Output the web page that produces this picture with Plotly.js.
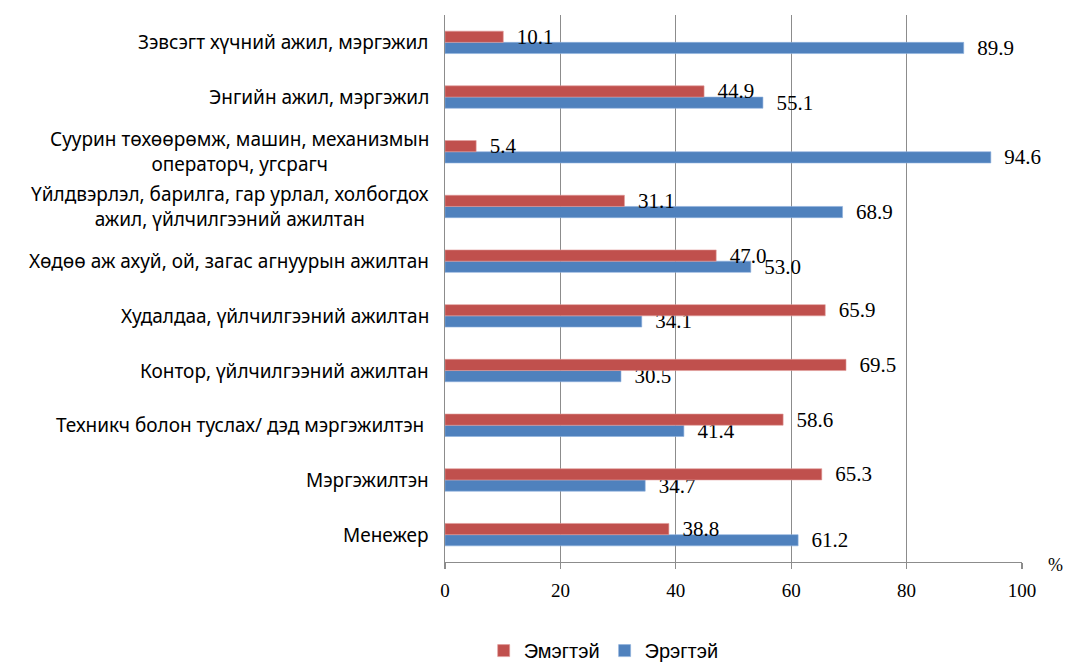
<!DOCTYPE html>
<html><head><meta charset="utf-8">
<script src="https://cdn.plot.ly/plotly-3.0.1.min.js"></script>
<style>html,body{margin:0;padding:0;background:#fff}#chart{width:1068px;height:663px}</style>
</head><body><div id="chart"></div>
<script>
// categories from bottom to top
const categories = [
  "Менежер",
  "Мэргэжилтэн",
  "Техникч болон туслах/ дэд мэргэжилтэн ",
  "Контор, үйлчилгээний ажилтан",
  "Худалдаа, үйлчилгээний ажилтан",
  "Хөдөө аж ахуй, ой, загас агнуурын ажилтан",
  "Үйлдвэрлэл, барилга, гар урлал, холбогдох<br>ажил, үйлчилгээний ажилтан",
  "Суурин төхөөрөмж, машин, механизмын<br>операторч, угсрагч",
  "Энгийн ажил, мэргэжил",
  "Зэвсэгт хүчний ажил, мэргэжил"
];
const female = [38.8, 65.3, 58.6, 69.5, 65.9, 47.0, 31.1, 5.4, 44.9, 10.1];
const male   = [61.2, 34.7, 41.4, 30.5, 34.1, 53.0, 68.9, 94.6, 55.1, 89.9];
const seriesNames = ["Эмэгтэй", "Эрэгтэй"];
const xTicks = [0, 20, 40, 60, 80, 100];

const labelFont = {family: "Liberation Serif, serif", size: 21, color: "#000"};

const traces = [
  {
    type: "bar", orientation: "h", name: seriesNames[1],
    y: categories, x: male,
    texttemplate: "\u2002%{x:.1f}", textposition: "outside", cliponaxis: false,
    constraintext: "none", textfont: labelFont,
    marker: {color: "#4F81BD", line: {color: "#8DB0DE", width: 0.6}}
  },
  {
    type: "bar", orientation: "h", name: seriesNames[0],
    y: categories, x: female,
    texttemplate: "\u2002%{x:.1f}", textposition: "outside", cliponaxis: false,
    constraintext: "none", textfont: labelFont,
    marker: {color: "#C0504D", line: {color: "#E09A98", width: 0.6}}
  }
];

const annotations = categories.map(c => ({
  xref: "paper", yref: "y", x: 0, y: c, xanchor: "right", yanchor: "middle",
  xshift: -14, text: c, showarrow: false, align: "center",
  font: {family: "Noto Sans, sans-serif", size: 19, color: "#000"}
}));
annotations.push({
  xref: "paper", yref: "paper", x: 1, y: 0, xanchor: "left", yanchor: "middle",
  xshift: 24, yshift: -3, text: "%", showarrow: false,
  font: {family: "Liberation Serif, serif", size: 18, color: "#000"}
});

const layout = {
  width: 1068, height: 663,
  margin: {l: 445, r: 46, t: 15, b: 101, autoexpand: false},
  paper_bgcolor: "#fff", plot_bgcolor: "#fff",
  barmode: "group", bargap: 0.59, bargroupgap: 0,
  showlegend: true,
  legend: {
    orientation: "h", x: 0.275, xanchor: "center", y: -0.162, yanchor: "middle",
    traceorder: "reversed",
    font: {family: "Liberation Sans Narrow, Arial Narrow, sans-serif", size: 20, color: "#000"},
    itemwidth: 30, tracegroupgap: 0
  },
  xaxis: {
    range: [0, 100], tickvals: xTicks, ticktext: xTicks.map(String),
    showgrid: true, gridcolor: "#8c8c8c", gridwidth: 1.3,
    showline: true, linecolor: "#8c8c8c", linewidth: 1.3,
    ticks: "outside", ticklen: 6, tickcolor: "#8c8c8c", tickwidth: 1.3,
    ticklabelstandoff: 5,
    zeroline: false,
    tickfont: {family: "Liberation Serif, serif", size: 19, color: "#000"}
  },
  yaxis: {
    type: "category", showticklabels: false, ticks: "",
    showgrid: false, zeroline: false,
    showline: true, linecolor: "#8c8c8c", linewidth: 1.3
  },
  annotations: annotations
};

Plotly.newPlot("chart", traces, layout, {displayModeBar: false, staticPlot: true});
</script>
</body></html>
